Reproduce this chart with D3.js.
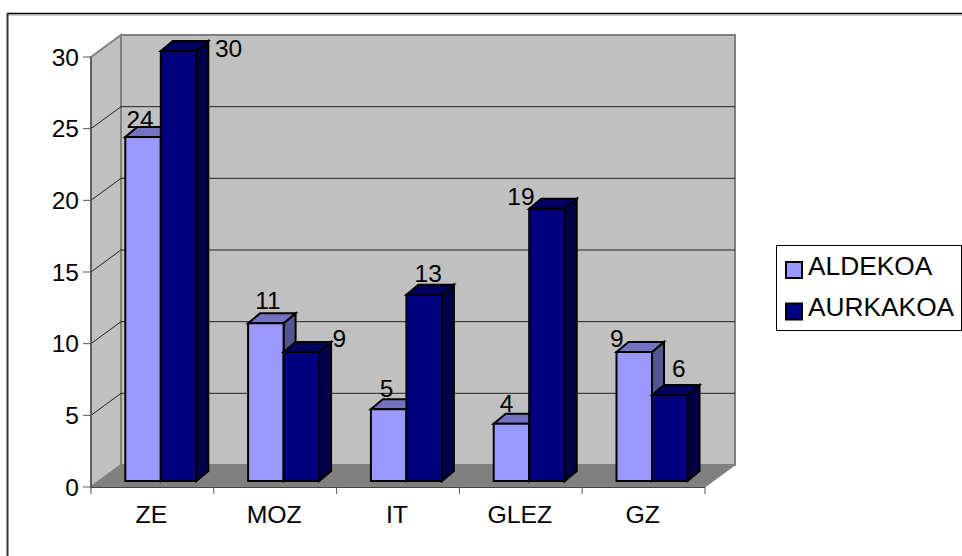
<!DOCTYPE html>
<html><head><meta charset="utf-8">
<script src="https://d3js.org/d3.v7.min.js"></script>
<style>html,body{margin:0;padding:0;background:#fff}svg{display:block}text{font-family:"Liberation Sans",Arial,sans-serif;fill:#000}</style>
</head><body>
<svg id="c" width="962" height="556"></svg>
<script>
const categories = ["ZE","MOZ","IT","GLEZ","GZ"];
const seriesNames = ["ALDEKOA","AURKAKOA"];
const aldekoa = [24,11,5,4,9];
const aurkakoa = [30,9,13,19,6];
const yTicks = [0,5,10,15,20,25,30];
const colors = ["#9999ff","#000080"];
const topColors = ["#7373bf","#000060"];
const sideColors = ["#55558f","#000048"];

const svg = d3.select("#c");
const x0 = 91, x1 = 705, y0 = 487, y30 = 57;
const DX = 30, DY = -22;
const x = d3.scaleBand().domain(categories).range([x0, x1]);
const y = d3.scaleLinear().domain([0,30]).range([y0, y30]);
const poly = (pts, fill, stroke, sw) => svg.append("polygon")
  .attr("points", pts.map(p => p.join(",")).join(" "))
  .attr("fill", fill).attr("stroke", stroke).attr("stroke-width", sw).attr("stroke-linejoin","miter");

// frame: only the top and left edges are visible
svg.append("line").attr("x1",7).attr("x2",962).attr("y1",13.5).attr("y2",13.5).attr("stroke","#000").attr("stroke-width",1.5);
svg.append("line").attr("x1",7).attr("x2",962).attr("y1",15).attr("y2",15).attr("stroke","#999").attr("stroke-width",1);
svg.append("line").attr("x1",7.5).attr("x2",7.5).attr("y1",13).attr("y2",556).attr("stroke","#333").attr("stroke-width",2);

// walls and floor
poly([[x0,y30],[x0+DX,y30+DY],[x0+DX,y0+DY],[x0,y0]], "#c0c0c0", "#808080", 2);
poly([[x0+DX,y30+DY],[x1+DX,y30+DY],[x1+DX,y0+DY],[x0+DX,y0+DY]], "#c0c0c0", "#808080", 2);
poly([[x0,y0],[x0+DX,y0+DY],[x1+DX,y0+DY],[x1,y0]], "#808080", "#808080", 1);

// gridlines on side and back wall
yTicks.filter(t => t>0 && t<30).forEach(t => {
  svg.append("path").attr("fill","none").attr("stroke","#222").attr("stroke-width",1)
    .attr("d", d3.line()([[x0,y(t)],[x0+DX,y(t)+DY],[x1+DX,y(t)+DY]]));
});

// axes
svg.append("line").attr("x1",x0).attr("x2",x0).attr("y1",y30).attr("y2",y0).attr("stroke","#555").attr("stroke-width",1.5);
svg.append("line").attr("x1",x0).attr("x2",x1).attr("y1",y0+.5).attr("y2",y0+.5).attr("stroke","#444").attr("stroke-width",1);
yTicks.forEach(t => {
  svg.append("line").attr("x1",x0-8).attr("x2",x0).attr("y1",y(t)).attr("y2",y(t)).attr("stroke","#555");
  svg.append("text").attr("x",x0-12).attr("y",y(t)+8.5).attr("text-anchor","end").attr("font-size",24.5).text(t);
});
[...categories.map(c => x(c)), x1].forEach(v => {
  svg.append("line").attr("x1",v).attr("x2",v).attr("y1",y0).attr("y2",y0+7).attr("stroke","#555");
});
categories.forEach(c => {
  svg.append("text").attr("x",x(c)+x.bandwidth()/2-1).attr("y",522.5).attr("text-anchor","middle").attr("font-size",24.8).text(c);
});

// bars
const barW = 35.5, bdx = 12, bdy = -10, ox = 8.4, oy = -6;
categories.forEach((c,i) => {
  [aldekoa,aurkakoa].forEach((vals,s) => {
    const v = vals[i];
    const l = x(c) + x.bandwidth()/2 - barW + s*barW + ox;
    const r = l + barW, b = y(0)+oy, t = y(v)+oy;
    poly([[r,t],[r+bdx,t+bdy],[r+bdx,b+bdy],[r,b]], sideColors[s], "#000", 2);
    poly([[l,t],[l+bdx,t+bdy],[r+bdx,t+bdy],[r,t]], topColors[s], "#000", 2);
    poly([[l,t],[r,t],[r,b],[l,b]], colors[s], "#000", 2);
  });
});

// data labels: offsets from the centre of each bar top, as placed in the reference
const labelDx = [[-3,2,-2,-5,-17.5],[50,38,4,-26,9]];
const labelDy = [[-15,-20,-18,-18,-11],[0,-11,-19,-10,-24]];
categories.forEach((c,i) => {
  [aldekoa,aurkakoa].forEach((vals,s) => {
    const v = vals[i];
    const cx = x(c) + x.bandwidth()/2 + ox + (s===0?-barW/2:barW/2);
    svg.append("text").attr("x", cx + labelDx[s][i]).attr("y", y(v) + labelDy[s][i])
      .attr("text-anchor","middle").attr("font-size",24.5).text(v);
  });
});

// legend
svg.append("rect").attr("x",776.5).attr("y",245.5).attr("width",185).attr("height",85).attr("fill","#fff").attr("stroke","#000");
seriesNames.forEach((n,i) => {
  const ly = 262 + i*41.5;
  svg.append("rect").attr("x",786).attr("y",ly).attr("width",16).attr("height",16).attr("fill",colors[i]).attr("stroke","#000").attr("stroke-width",2);
  svg.append("text").attr("x",808).attr("y",ly+12.5).attr("font-size",26.3).text(n);
});
</script>
</body></html>
